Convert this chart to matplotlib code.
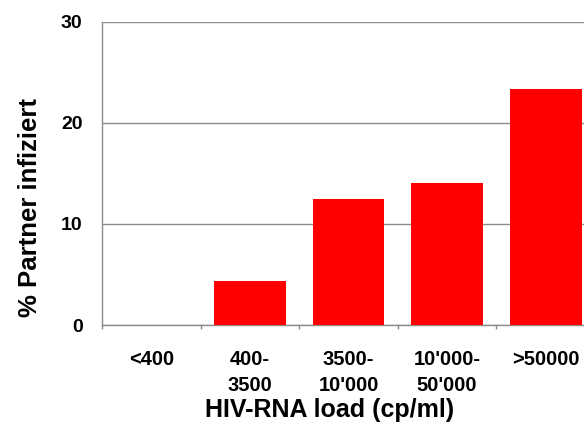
import numpy as np
import matplotlib
matplotlib.use("Agg")
from matplotlib import pyplot as plt

# data
categories = ["<400", "400-\n3500", "3500-\n10'000", "10'000-\n50'000", ">50000"]
infected_pct = [0.0, 4.4, 12.5, 14.0, 23.3]

plt.rcParams['font.family'] = ['Liberation Sans', 'DejaVu Sans']
plt.rcParams['font.weight'] = 'bold'

fig = plt.figure(figsize=(5.84, 4.24), dpi=100)
ax = fig.add_axes([102 / 584, 1 - 325 / 424, 493 / 584, (325 - 21.7) / 424])

x = np.arange(len(categories))
ax.bar(x, infected_pct, width=0.73, color='#ff0000', zorder=3)

ax.set_xlim(-0.5, len(categories) - 0.5)
ax.set_ylim(0, 30)
ax.set_yticks([0, 10, 20, 30])
ax.grid(axis='y', color='#8c8c8c', linewidth=1.0, zorder=0)

# labels at centres, small tick marks between categories
ax.set_xticks(x)
ax.set_xticklabels(categories, fontsize=14.5, fontweight='bold', linespacing=1.45)
ax.set_xticks(np.arange(len(categories) + 1) - 0.5, minor=True)
ax.tick_params(axis='x', which='major', length=0, pad=18)
ax.tick_params(axis='x', which='minor', length=3, color='#8c8c8c', width=1)
ax.tick_params(axis='y', length=0, pad=14, labelsize=14)
for lbl in ax.get_yticklabels():
    lbl.set_fontweight('bold')

for side in ['top', 'right']:
    ax.spines[side].set_visible(False)
for side in ['left', 'bottom']:
    ax.spines[side].set_color('#8c8c8c')
    ax.spines[side].set_linewidth(1.0)

ax.set_xlabel("HIV-RNA load (cp/ml)", fontsize=18, fontweight='bold')
ax.set_ylabel("% Partner infiziert", fontsize=18.5, fontweight='bold')
ax.xaxis.set_label_coords(0.4625, -0.242)
ax.yaxis.set_label_coords(-0.122, 0.389)

fig.savefig("out.png", dpi=100)
